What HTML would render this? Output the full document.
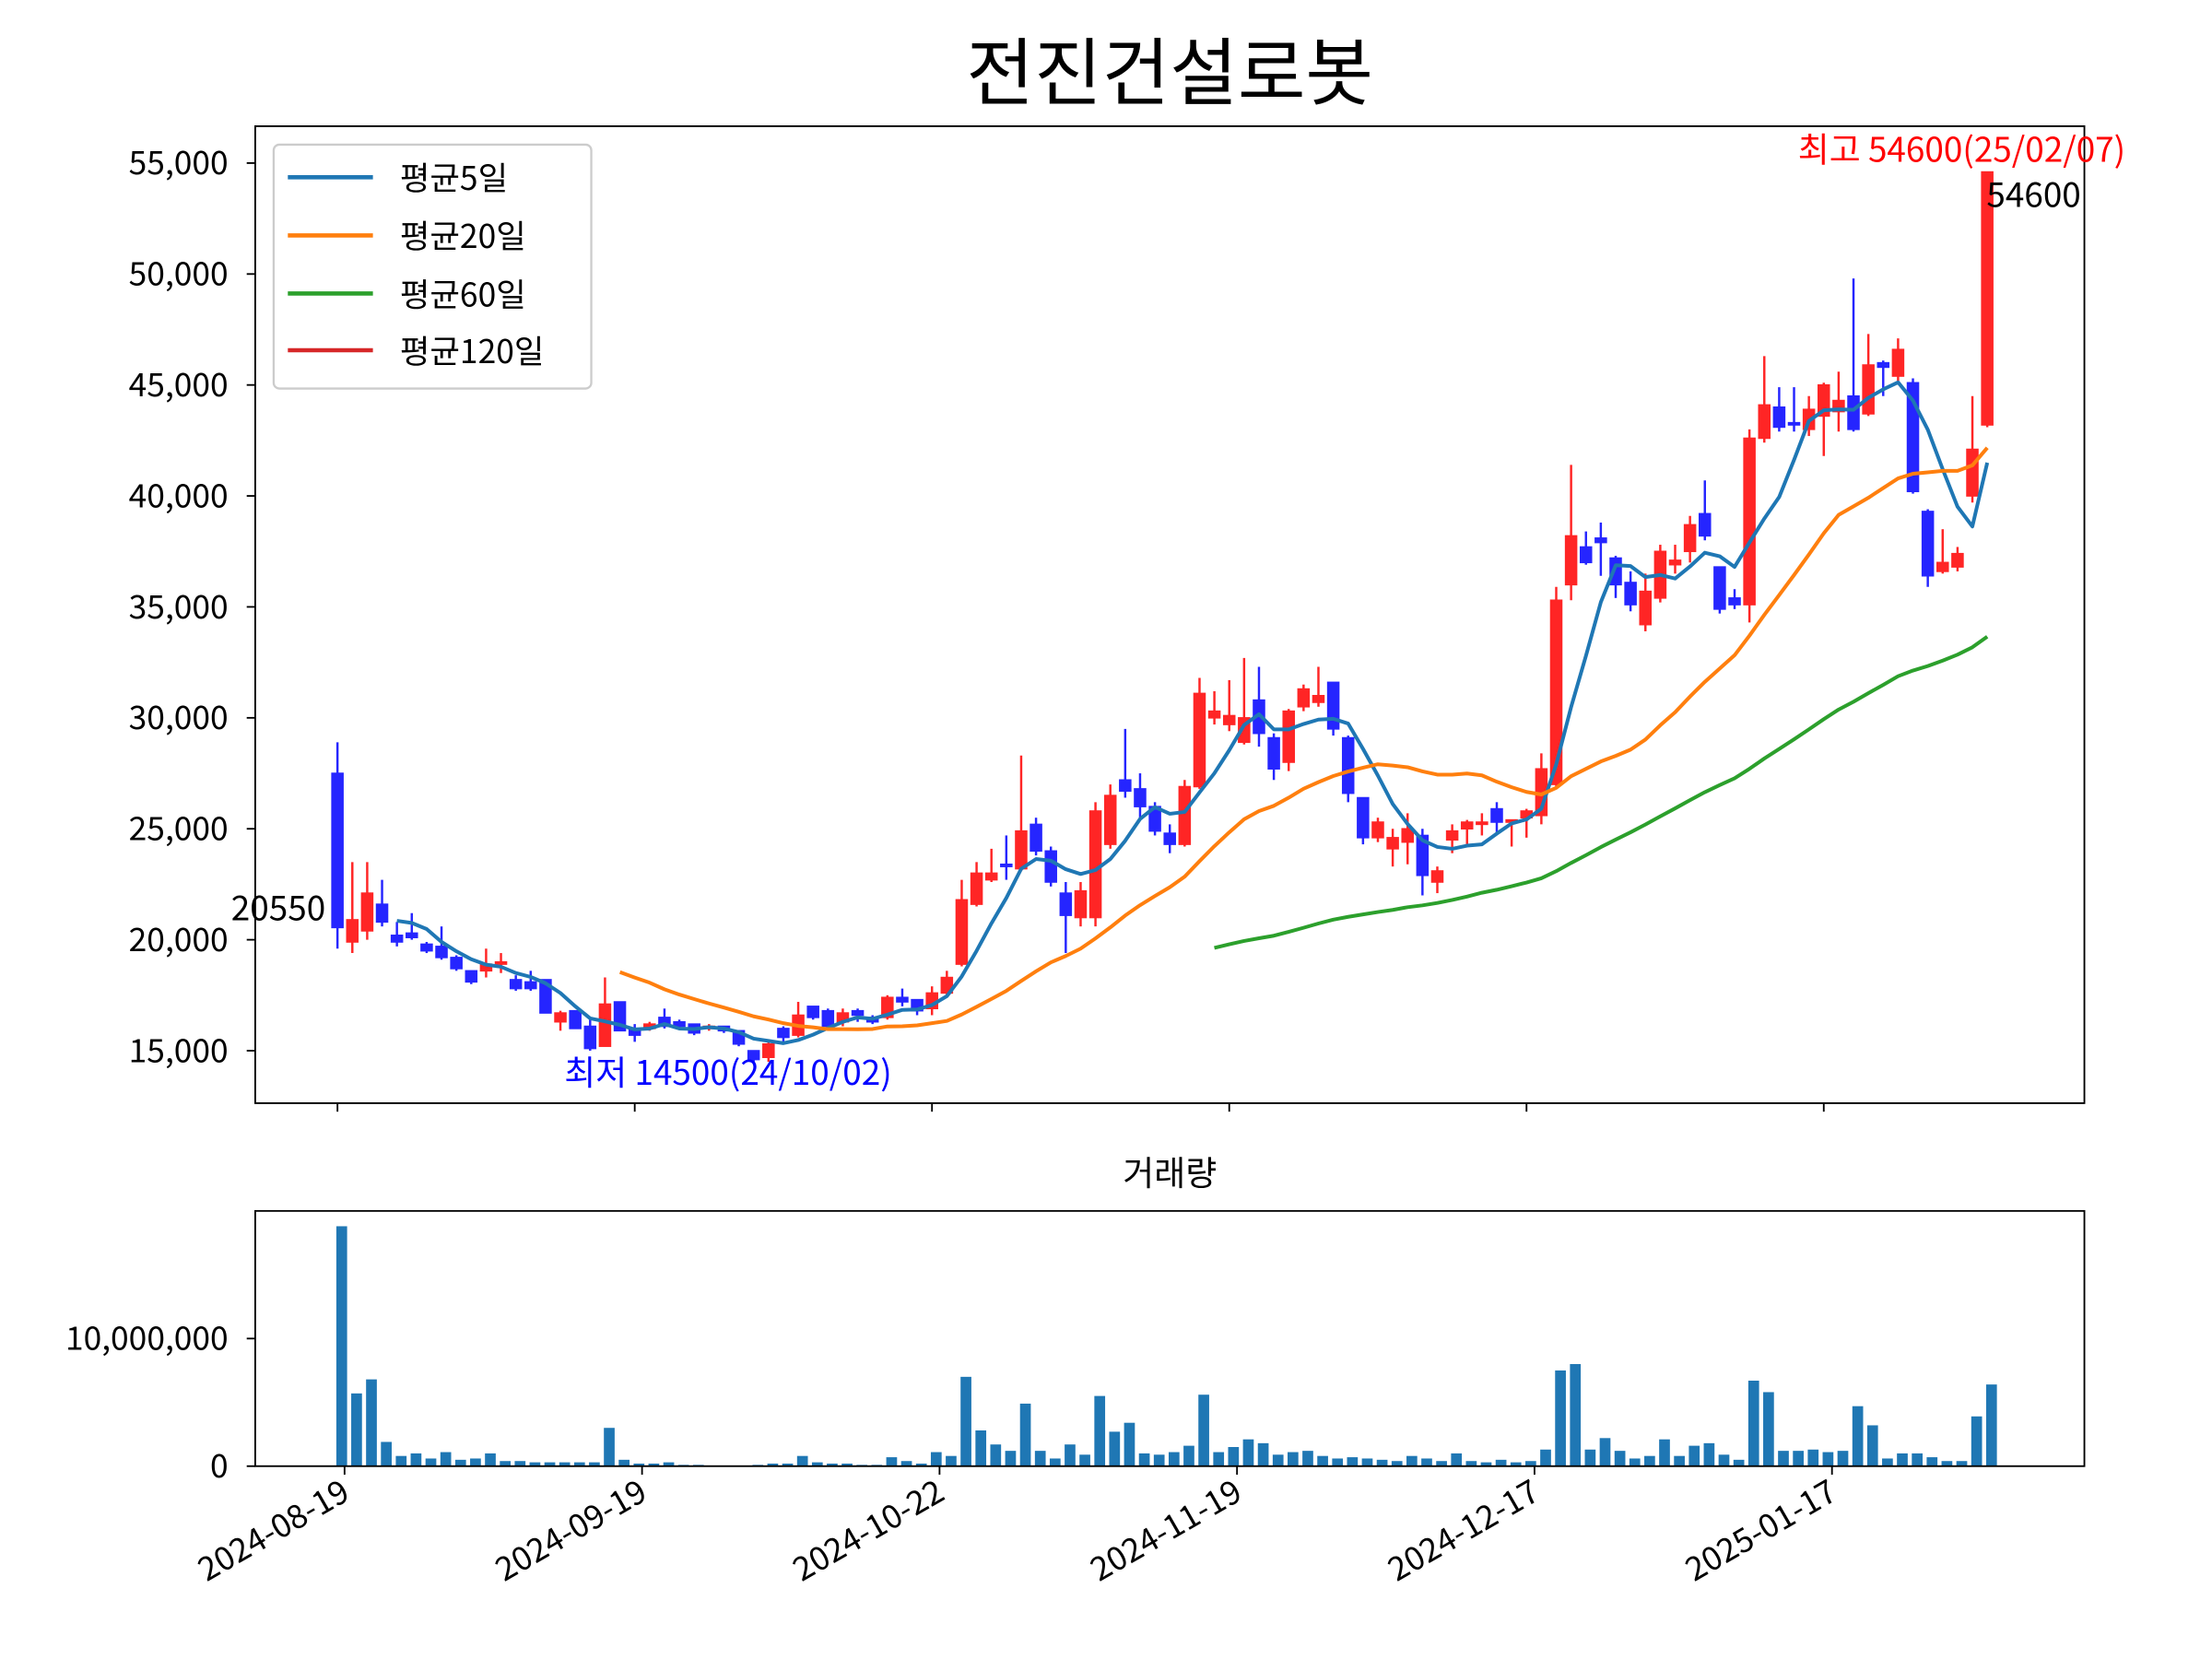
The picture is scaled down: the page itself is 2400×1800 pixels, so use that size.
<!DOCTYPE html>
<html><head><meta charset="utf-8"><style>
html,body{margin:0;padding:0;background:#fff;}
svg{display:block;}
text{font-family:"Noto Sans CJK KR","Liberation Sans",sans-serif;}
</style></head><body>
<svg id="chart" width="2400" height="1800" viewBox="0 0 1560 1170" xmlns="http://www.w3.org/2000/svg">
<rect x="0" y="0" width="1560" height="1170" fill="#fff"/>
<text x="825" y="70" font-size="52" text-anchor="middle">전진건설로봇</text>
<g id="price"></g>
<rect x="180" y="89" width="1290" height="689" fill="none" stroke="#000" stroke-width="1.2"/>
<text x="825" y="836" font-size="24" text-anchor="middle">거래량</text>
<g id="vol"></g>
<rect x="180" y="854" width="1290" height="180" fill="none" stroke="#000" stroke-width="1.2"/>
<g id="legend">
<rect x="193" y="102" width="224" height="172" rx="4" fill="#fff" fill-opacity="0.8" stroke="#ccc" stroke-width="1.5"/>
<line x1="203" y1="125" x2="263" y2="125" stroke="#1f77b4" stroke-width="3"/>
<text x="282" y="134" font-size="23">평균5일</text>
<line x1="203" y1="166" x2="263" y2="166" stroke="#ff7f0e" stroke-width="3"/>
<text x="282" y="175" font-size="23">평균20일</text>
<line x1="203" y1="207" x2="263" y2="207" stroke="#2ca02c" stroke-width="3"/>
<text x="282" y="216" font-size="23">평균60일</text>
<line x1="203" y1="247" x2="263" y2="247" stroke="#d62728" stroke-width="3"/>
<text x="282" y="256" font-size="23">평균120일</text>
</g>
<text x="1268" y="114" font-size="24" fill="red">최고 54600(25/02/07)</text>
<text x="1401" y="146" font-size="24" fill="#000">54600</text>
<text x="163" y="649" font-size="24" fill="#000">20550</text>
<text x="398" y="765" font-size="24" fill="blue">최저 14500(24/10/02)</text>
</svg>
<script>
const opens=[27500,19900,20400,21600,20200,20300,19800,19700,19200,18600,18600,18900,18200,18100,18200,16300,16800,16100,15200,17200,16000,16000,16500,16300,16200,16000,16100,15900,15000,14700,16000,15700,17000,16800,16300,16800,16500,16500,17400,17300,16900,17600,18900,21600,22700,23400,23200,25200,24000,22100,21000,21000,24300,27200,26800,26000,24800,24300,26900,30000,29700,28900,30800,29100,28000,30500,30700,31600,29100,26400,24600,24100,24400,24700,22600,24500,25000,25200,25900,25300,25500,25600,27000,36000,37700,38100,37200,36100,34200,35400,36900,37500,39200,36800,35400,35100,42600,44000,43300,43000,43600,43800,44500,43700,46000,45400,45100,39300,36600,36800,40000,43200];
const closes=[20550,20900,22100,20800,19900,20100,19500,19200,18700,18100,18900,19000,17800,17800,16700,16700,16000,15100,17100,15900,15700,16200,16100,16100,15800,16100,15900,15300,14600,15300,15600,16600,16500,16100,16700,16600,16300,17400,17200,16800,17600,18300,21800,23000,23000,23300,24900,24000,22600,21100,22200,25800,26500,26700,26000,24900,24300,26900,31100,30300,30100,30000,29300,27700,30300,31300,31000,29500,26600,24600,25300,24600,25000,22900,23100,24900,25300,25300,25300,25400,25800,27700,35300,38200,37000,37900,36000,35100,35700,37500,37100,38700,38200,34900,35100,42600,44100,43100,43200,43900,45000,44300,43000,45900,45800,46600,40200,36400,37000,37400,42100,54600];
const highs=[28900,23500,23500,22700,20800,21200,19900,20600,19300,18600,19600,19400,18400,18600,18200,16800,16800,16400,18300,17200,16200,16300,16900,16400,16200,16200,16100,15900,15000,15500,16100,17200,17000,16900,16900,16900,16600,17500,17800,17300,17900,18600,22700,23500,24100,24700,28300,25500,24200,22600,22600,26200,27000,29500,27500,26200,25200,27200,31800,31200,31700,32700,32300,29300,30400,31500,32300,31600,29200,26400,25500,25000,25700,25000,23300,25200,25400,25700,26200,25400,25900,28400,35900,41400,38400,38800,37300,36600,36500,37800,37800,39100,40700,36800,35800,43000,46300,44900,44900,44500,45100,45600,49800,47300,46100,47100,45300,39400,38500,37700,44500,54600];
const lows=[19600,19400,20000,20600,19700,20000,19400,19100,18600,18000,18300,18500,17700,17700,16700,15900,16000,15000,15200,15900,15400,15900,16000,16000,15700,15900,15800,15200,14500,14500,15400,15600,16400,16000,16100,16300,16200,16400,17000,16600,16600,17400,18800,21500,22600,22700,23100,23800,22400,19400,20600,20600,24100,26400,25500,24700,23900,24200,26800,29700,29400,28800,28700,27200,27600,30300,30500,29200,26200,24300,24400,23300,23400,22000,22100,23900,24300,24700,24800,24200,24600,25200,26800,35300,36900,36400,35400,34800,33900,35200,36500,37000,38000,34700,34900,34300,42400,42900,42900,42700,41800,42900,42900,43600,44500,45100,40100,35900,36500,36600,39700,43100];
const volumesM=[18.8,5.7,6.8,1.9,0.8,1.0,0.6,1.1,0.5,0.6,1.0,0.4,0.4,0.3,0.3,0.3,0.3,0.3,3.0,0.5,0.2,0.2,0.3,0.1,0.1,0.05,0.05,0.05,0.1,0.2,0.2,0.8,0.3,0.2,0.2,0.1,0.1,0.7,0.4,0.2,1.1,0.8,7.0,2.8,1.7,1.2,4.9,1.2,0.6,1.7,0.9,5.5,2.7,3.4,1.0,0.9,1.1,1.6,5.6,1.1,1.5,2.1,1.8,0.9,1.1,1.2,0.8,0.6,0.7,0.6,0.5,0.4,0.8,0.6,0.4,1.0,0.4,0.3,0.5,0.3,0.4,1.3,7.5,8.0,1.3,2.2,1.2,0.6,0.8,2.1,0.8,1.6,1.8,0.9,0.5,6.7,5.8,1.2,1.2,1.3,1.1,1.2,4.7,3.2,0.6,1.0,1.0,0.7,0.4,0.4,3.9,6.4];
const priceTicks=[15000,20000,25000,30000,35000,40000,45000,50000,55000];
const volTicks=[0,10000000];
const dateLabels=["2024-08-19","2024-09-19","2024-10-22","2024-11-19","2024-12-17","2025-01-17"];
const dateTickIdx=[0,20,40,60,80,100];

const NS="http://www.w3.org/2000/svg";
function mk(tag,attrs,parent,txt){const e=document.createElementNS(NS,tag);for(const k in attrs)e.setAttribute(k,attrs[k]);if(txt!==undefined)e.textContent=txt;parent.appendChild(e);return e;}
const xS=i=>238+i*10.482;
const yS=v=>741-(v-15000)*78.25/5000;
const vxS=i=>241+i*10.482;
const vyS=v=>1034-v*90/10000000;
const P=document.getElementById('price'),V=document.getElementById('vol');

priceTicks.forEach(t=>{
  const g=mk('g',{},P);
  
  
  mk('line',{x1:174,x2:180,y1:yS(t),y2:yS(t),stroke:'#000','stroke-width':1.2},g);
  mk('text',{x:161,y:yS(t)+8,'font-size':23,'text-anchor':'end'},g,t.toLocaleString('en-US'));
});
dateTickIdx.forEach(i=>{
  const l=mk('line',{x1:xS(i),x2:xS(i),y1:778,y2:784,stroke:'#000','stroke-width':1.2},P);
  
  
});
opens.forEach((o,i)=>{
  const c=closes[i],up=c>=o,col=up?'#ff0000':'#0000ff';
  const g=mk('g',{opacity:0.85},P);
  
  
  mk('line',{x1:xS(i),x2:xS(i),y1:yS(highs[i]),y2:yS(lows[i]),stroke:col,'stroke-width':1.6},g);
  const top=yS(Math.max(o,c)),bot=yS(Math.min(o,c));
  mk('rect',{x:xS(i)-3.9,y:top,width:7.8,height:Math.max(bot-top,1),fill:col,stroke:col,'stroke-width':1},g);
});
function ma(n){const r=[];for(let i=n-1;i<closes.length;i++){let s=0;for(let j=i-n+1;j<=i;j++)s+=closes[j];r.push([i,s/n]);}return r;}
[[5,'#1f77b4','ma5-line'],[20,'#ff7f0e','ma20-line'],[60,'#2ca02c','ma60-line']].forEach(([n,col,name])=>{
  const pts=ma(n).map(([i,v])=>xS(i).toFixed(1)+','+yS(v).toFixed(1)).join(' ');
  const pl=mk('polyline',{points:pts,fill:'none',stroke:col,'stroke-width':2.6,'stroke-linejoin':'round'},P);
  
  
});
volumesM.forEach((v,i)=>{
  const y=vyS(v*1e6);
  const r=mk('rect',{x:vxS(i)-3.8,y:y,width:7.6,height:1034-y,fill:'#1f77b4'},V);
  
  
});
volTicks.forEach(t=>{
  const g=mk('g',{},V);
  
  
  mk('line',{x1:174,x2:180,y1:vyS(t),y2:vyS(t),stroke:'#000','stroke-width':1.2},g);
  mk('text',{x:161,y:vyS(t)+8,'font-size':23,'text-anchor':'end'},g,t.toLocaleString('en-US'));
});
dateTickIdx.forEach((idx,k)=>{
  const x=243+idx*10.49;
  const g=mk('g',{},V);
  
  
  mk('line',{x1:x,x2:x,y1:1034,y2:1040,stroke:'#000','stroke-width':1.2},g);
  mk('text',{x:x,y:1058,'font-size':23,'text-anchor':'end',transform:`rotate(-30 ${x} 1048)`},g,dateLabels[k]);
});
</script>
</body></html>
